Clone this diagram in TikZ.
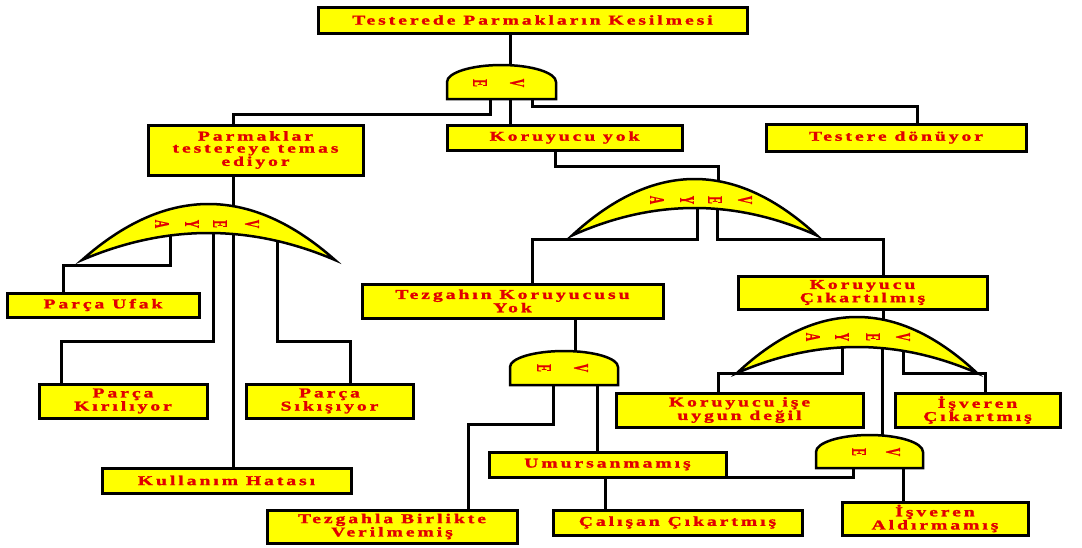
\documentclass[tikz,border=0pt]{standalone}
\usepackage{fontspec}
\usetikzlibrary{calc}
\newfontfamily\boxfont{Liberation Serif}[FakeStretch=1.45,LetterSpace=22,BoldFeatures={FakeBold=1.6}]
\newfontfamily\gatefont{Liberation Serif}[BoldFeatures={FakeBold=1.2}]
\definecolor{txtred}{RGB}{225,0,0}
\definecolor{gateyellow}{RGB}{255,255,0}
\newcommand\RotLetter[1]{\scalebox{1.8}[1]{\rotatebox{-90}{#1}}}
\newcommand\AndGate[5]{% left right bottom side apex
  \filldraw[gateshape] (#1,#3) -- (#1,#4)
    .. controls (#1,{#4-0.552*(#4-#5)}) and ({(#1+#2)/2-0.552*(#2-#1)/2},#5) .. ({(#1+#2)/2},#5)
    .. controls ({(#1+#2)/2+0.552*(#2-#1)/2},#5) and (#2,{#4-0.552*(#4-#5)}) .. (#2,#4)
    -- (#2,#3) -- cycle;}
\newcommand\OrGate[5]{% left right tipy outerapex innerapex
  \filldraw[gateshape] (#1,#3)
    .. controls ({#1+(#2-#1)/3},{#3-4/3*(#3-#4)}) and ({#2-(#2-#1)/3},{#3-4/3*(#3-#4)}) .. (#2,#3)
    .. controls ({#2-(#2-#1)/3},{#3-4/3*(#3-#5)}) and ({#1+(#2-#1)/3},{#3-4/3*(#3-#5)}) .. (#1,#3)
    -- cycle;}
\begin{document}
\begin{tikzpicture}[x=1pt,y=-1pt,
  box/.style={draw=black, line width=3pt, fill=gateyellow, text=txtred,
    font=\boxfont\bfseries\fontsize{13.5}{12}\selectfont, align=center, inner sep=0pt},
  wire/.style={draw=black, line width=3pt},
  gateshape/.style={draw=black, line width=2.5pt, fill=gateyellow},
  glet/.style={text=txtred, font=\gatefont\bfseries\fontsize{11.5}{11.5}\selectfont, inner sep=0pt}]
\fill[white] (0,0) rectangle (1082,547);
\useasboundingbox (0,0) rectangle (1082,547);

% boxes
\node[box, minimum width=429pt, minimum height=26pt] (top) at (532.5,20) {Testerede Parmakların Kesilmesi};
\node[box, minimum width=215pt, minimum height=50pt] (parm) at (255.5,150) {Parmaklar\\testereye temas\\ediyor};
\node[box, minimum width=235pt, minimum height=25pt] (koy) at (564.5,137.5) {Koruyucu yok};
\node[box, minimum width=260pt, minimum height=27pt] (tes) at (896,137.5) {Testere dönüyor};
\node[box, minimum width=192pt, minimum height=24pt] (ufak) at (103,305) {Parça Ufak};
\node[box, minimum width=168pt, minimum height=34pt] (kir) at (123,401) {Parça\\Kırılıyor};
\node[box, minimum width=167pt, minimum height=34pt] (sik) at (329.5,401) {Parça\\Sıkışıyor};
\node[box, minimum width=249pt, minimum height=25pt] (kul) at (226.5,480.5) {Kullanım Hatası};
\node[box, minimum width=301pt, minimum height=34pt] (tzg) at (512.5,301) {Tezgahın Koruyucusu\\Yok};
\node[box, minimum width=249pt, minimum height=33pt] (kc) at (862.5,292.5) {Koruyucu\\Çıkartılmış};
\node[box, minimum width=237pt, minimum height=25pt] (umu) at (607.5,464.5) {Umursanmamış};
\node[box, minimum width=250pt, minimum height=33pt] (tbv) at (392,526.5) {Tezgahla Birlikte\\Verilmemiş};
\node[box, minimum width=249pt, minimum height=25pt] (cal) at (677.5,522.5) {Çalışan Çıkartmış};
\node[box, minimum width=247pt, minimum height=34pt] (kiu) at (739.5,410) {Koruyucu işe\\uygun değil};
\node[box, minimum width=165pt, minimum height=34pt] (isc) at (977.5,410) {İşveren\\Çıkartmış};
\node[box, minimum width=186pt, minimum height=33pt] (isa) at (935,518.5) {İşveren\\Aldırmamış};

% gate reference points
\coordinate (gA) at (510,88);
\coordinate (gL) at (208.5,222);
\coordinate (gM) at (694.5,200);
\coordinate (gR) at (857,335);
\coordinate (gT) at (564,372);
\coordinate (gS) at (869.5,458);

% connectors
\draw[wire] ($(top.south)+(-22.5,0)$) -- (gA);
\draw[wire] ($(gA)+(-20,0)$) |- ($(parm.north)+(-22.5,-9)$) -- ($(parm.north)+(-22.5,0)$);
\draw[wire] (gA) -- (gA |- koy.north);
\draw[wire] ($(gA)+(22,0)$) |- ($(tes.north)+(21,-16)$) -- ($(tes.north)+(21,0)$);

\draw[wire] ($(parm.south)+(-22.5,0)$) -- ($(gL)+(24.5,0)$);
\draw[wire] ($(gL)+(-38.5,0)$) |- ($(ufak.north)+(-40,-26)$) -- ($(ufak.north)+(-40,0)$);
\draw[wire] ($(gL)+(4.5,0)$) |- ($(kir.north)+(-62,-41)$) -- ($(kir.north)+(-62,0)$);
\draw[wire] ($(gL)+(24.5,0)$) -- ($(kul.north)+(6.5,0)$);
\draw[wire] ($(gL)+(68.5,0)$) |- ($(sik.north)+(20.5,-41)$) -- ($(sik.north)+(20.5,0)$);

\draw[wire] ($(koy.south)+(-9.5,0)$) |- ($(gM)+(23.5,-34)$) -- ($(gM)+(23.5,0)$);
\draw[wire] ($(gM)+(2.5,0)$) |- ($(tzg.north)+(19.5,-43)$) -- ($(tzg.north)+(19.5,0)$);
\draw[wire] ($(gM)+(22.5,0)$) |- ($(kc.north)+(20.5,-35)$) -- ($(kc.north)+(20.5,0)$);

\draw[wire] ($(tzg.south)+(62.5,0)$) -- ($(gT)+(11,0)$);
\draw[wire] ($(gT)+(-11,0)$) |- ($(tbv.north)+(76,-84)$) -- ($(tbv.north)+(76,0)$);
\draw[wire] ($(gT)+(33,0)$) -- ($(umu.north)+(-10.5,0)$);

\draw[wire] ($(kc.south)+(20.5,0)$) -- ($(gR)+(26,0)$);
\draw[wire] ($(gR)+(-15,0)$) |- ($(kiu.north)+(-21.5,-18)$) -- ($(kiu.north)+(-21.5,0)$);
\draw[wire] ($(gR)+(25,0)$) -- ($(gS)+(12.5,0)$);
\draw[wire] ($(gR)+(46,0)$) |- ($(isc.north)+(7.5,-18)$) -- ($(isc.north)+(7.5,0)$);

\draw[wire] ($(gS)+(-16.5,0)$) |- ($(cal.north)+(-72.5,-31)$) -- ($(cal.north)+(-72.5,0)$);
\draw[wire] ($(gS)+(33.5,0)$) -- ($(isa.north)+(-32,0)$);

% gates
\AndGate{447}{556}{99}{82}{65}
\AndGate{510}{618}{385}{367}{351}
\AndGate{816}{923}{468}{452}{435}
\OrGate{82}{335}{260}{204}{233}
\OrGate{572}{817}{235.5}{179}{208}
\OrGate{737}{977}{373}{317}{347}

% gate labels
\node[glet] (a1) at (480,83) {\RotLetter{E}};
\node[glet] (a2) at (517,83) {\RotLetter{V}};
\node[glet] (t1) at (544,368) {\RotLetter{E}};
\node[glet] (t2) at (581,368) {\RotLetter{V}};
\node[glet] (s1) at (859,452) {\RotLetter{E}};
\node[glet] (s2) at (893,452) {\RotLetter{V}};
\node[glet] (l1) at (162,224) {\RotLetter{A}};
\node[glet] (l2) at (192,224) {\RotLetter{Y}};
\node[glet] (l3) at (220,224) {\RotLetter{E}};
\node[glet] (l4) at (252,224) {\RotLetter{V}};
\node[glet] (m1) at (657,200) {\RotLetter{A}};
\node[glet] (m2) at (687,200) {\RotLetter{Y}};
\node[glet] (m3) at (715,200) {\RotLetter{E}};
\node[glet] (m4) at (745,200) {\RotLetter{V}};
\node[glet] (r1) at (813,337) {\RotLetter{A}};
\node[glet] (r2) at (842,337) {\RotLetter{Y}};
\node[glet] (r3) at (873,337) {\RotLetter{E}};
\node[glet] (r4) at (903,337) {\RotLetter{V}};
\end{tikzpicture}
\end{document}
